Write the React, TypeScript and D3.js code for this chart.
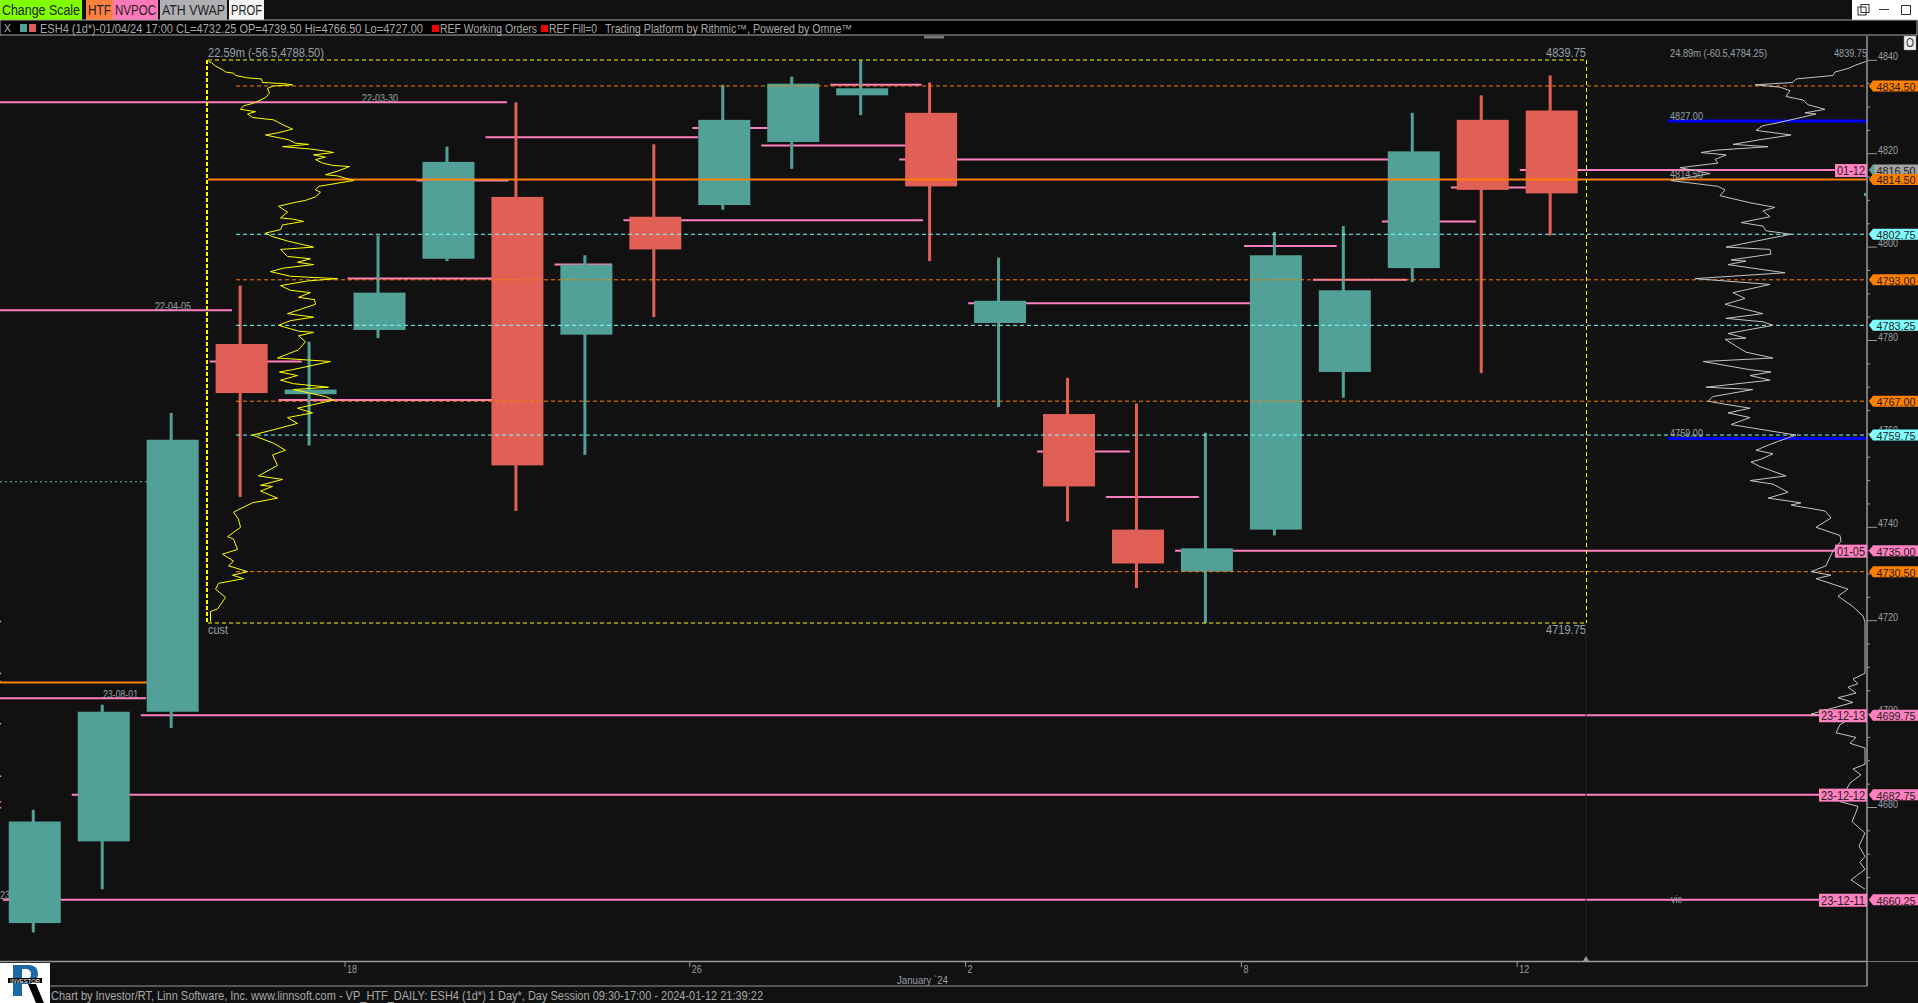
import * as d3 from 'd3';

const dates = ['12-11', '12-12', '12-13', '12-14', '12-15', '12-18', '12-19', '12-20', '12-21', '12-22', '12-26', '12-27', '12-28', '12-29', '01-02', '01-03', '01-04', '01-05', '01-08', '01-09', '01-10', '01-11', '01-12'];
const opens = [4655.25, 4672.75, 4700.5, 4779.25, 4768.5, 4782.25, 4797.5, 4810.75, 4781.25, 4806.5, 4809, 4822.5, 4832.5, 4828.75, 4783.75, 4764.25, 4739.5, 4730.5, 4739.5, 4773.25, 4795.5, 4827.25, 4829.25];
const highs = [4679.5, 4702, 4764.5, 4791.75, 4779.75, 4802.5, 4821.5, 4831, 4798.25, 4822, 4834.75, 4836.5, 4840, 4835.25, 4797.75, 4772, 4766.5, 4760.25, 4803.25, 4804.5, 4828.75, 4832.5, 4836.75];
const lows = [4653.25, 4662.5, 4697, 4746.5, 4757.5, 4780.5, 4797, 4743.5, 4755.5, 4785, 4808, 4816.75, 4828.25, 4797, 4765.75, 4741.25, 4727, 4719.5, 4738.25, 4767.75, 4792.5, 4773, 4802.5];
const closes = [4677, 4700.5, 4758.75, 4768.75, 4769.5, 4790.25, 4818.25, 4753.25, 4796.25, 4799.5, 4827.25, 4835, 4834, 4813, 4788.5, 4748.75, 4732.25, 4735.5, 4798.25, 4790.75, 4820.5, 4812.25, 4811.5];

// naked POC of each day and the bar where it stops
const pocPrices = [4660.25, 4682.75, 4699.75, 4775.5, 4767.25, 4793.25, 4814.25, 4823.5, 4796.25, 4805.75, 4825.5, 4821.75, 4834.75, 4818.75, 4788, 4756.25, 4746.5, 4735, 4800.25, 4793, 4805.5, 4812.75, 4816.5];
const pocEnds = [26.58, 26.58, 26.58, 3.87, 6.64, 6.64, 6.87, 9.62, 8.37, 12.88, 10.96, 12.63, 12.86, 19.64, 17.64, 15.88, 16.88, 26.58, 18.88, 19.9, 20.9, 21.9, 26.58];

const yellowPrices = [4839.75, 4839.5, 4838.75, 4838, 4837.5, 4837.25, 4836.75, 4836.25, 4836, 4835.25, 4835, 4834.75, 4834.5, 4834, 4833, 4832, 4831, 4830.75, 4830.25, 4829.5, 4829, 4828.5, 4827.75, 4827.25, 4826.25, 4825.25, 4824.5, 4824, 4823, 4822.25, 4822, 4821.5, 4821, 4820.5, 4820.25, 4819.75, 4819.25, 4818.75, 4818, 4817.5, 4817.25, 4816.25, 4815.5, 4815.25, 4814.25, 4813, 4812.25, 4811.75, 4810.75, 4810, 4809.5, 4808.75, 4807.5, 4806.25, 4806, 4805.5, 4804.75, 4803.75, 4803, 4802.25, 4801.25, 4800, 4799.5, 4798, 4797.5, 4796.75, 4796.25, 4795.5, 4794.75, 4793.75, 4793.25, 4792.75, 4791.75, 4790.75, 4790.25, 4789.25, 4788.75, 4787.75, 4785.75, 4785, 4784.25, 4783.25, 4782, 4781.75, 4781, 4779.75, 4778, 4776.25, 4775.5, 4773.75, 4773.25, 4772.5, 4771.5, 4770.75, 4770, 4769.5, 4768, 4767.25, 4765.5, 4764.5, 4763.5, 4762.25, 4761, 4759.75, 4758, 4756.5, 4755.5, 4753.25, 4751, 4750.25, 4749, 4748.75, 4747.75, 4746.25, 4745.25, 4743.25, 4741.75, 4740, 4738, 4737.5, 4735.25, 4734.25, 4732.75, 4731.75, 4730.5, 4729.75, 4729, 4728, 4726.75, 4725, 4722.5, 4722, 4719.75];
const yellowVols = [0, 3, 7, 14, 17, 25, 27, 39, 53, 54, 75, 84, 65, 59, 61, 57, 47, 44, 35, 32, 47, 39, 44, 65, 74, 84, 70, 57, 80, 87, 100, 74, 102, 119, 125, 105, 117, 107, 114, 124, 141, 129, 117, 129, 145, 110, 107, 112, 107, 97, 85, 70, 79, 72, 84, 95, 74, 72, 57, 64, 80, 105, 72, 79, 102, 89, 105, 75, 62, 82, 129, 99, 72, 82, 102, 90, 106, 107, 79, 105, 82, 70, 90, 105, 90, 97, 90, 69, 122, 84, 71, 89, 72, 85, 120, 85, 117, 125, 89, 104, 79, 89, 67, 44, 65, 77, 64, 69, 50, 74, 52, 64, 52, 69, 44, 25, 30, 32, 19, 25, 29, 14, 25, 20, 39, 24, 35, 10, 7, 17, 9, 2, 2];

const whitePrices = [4839.75, 4839, 4838.25, 4837.5, 4836.75, 4836, 4835.25, 4834.75, 4834.25, 4833.5, 4832.25, 4831.5, 4830.5, 4829.5, 4828.75, 4828.5, 4827.5, 4826.5, 4826, 4825, 4824, 4823, 4822, 4821.5, 4820.75, 4820.25, 4819.75, 4818.75, 4818, 4817, 4815.75, 4814.25, 4813, 4812.25, 4811, 4809.5, 4808.5, 4807.75, 4806.5, 4805.25, 4804.5, 4803.5, 4802.75, 4802, 4800, 4799.5, 4798.5, 4797.25, 4797, 4796.25, 4794.5, 4793.25, 4792, 4790.25, 4789, 4787.75, 4785.75, 4784.75, 4784, 4783.25, 4781.5, 4780.5, 4780.25, 4777.5, 4776.25, 4775.5, 4773.75, 4773.25, 4772.5, 4771.5, 4770, 4769.5, 4768, 4767, 4766.25, 4765.5, 4764.5, 4763.5, 4762, 4759.75, 4758, 4756.5, 4755.75, 4754.5, 4754, 4753, 4751, 4750, 4749.25, 4747.5, 4746.25, 4745.25, 4744.75, 4743.5, 4742, 4740, 4738.25, 4737, 4735, 4731.75, 4730.5, 4729.75, 4729, 4726.75, 4725.25, 4723, 4721, 4719.75, 4708.75, 4707.5, 4706.5, 4705.75, 4704.5, 4703.5, 4702.5, 4700, 4699, 4697.75, 4696, 4695, 4693.75, 4692.75, 4689.25, 4688.25, 4687, 4685.25, 4681.25, 4680.25, 4679, 4677, 4674.5, 4671.75, 4669.5, 4668.25, 4666.75, 4664.5, 4662.5];
const whiteVols = [1, 11, 19, 32, 34, 71, 74, 112, 87, 77, 81, 64, 59, 42, 62, 51, 71, 92, 104, 111, 76, 107, 134, 99, 151, 166, 141, 152, 149, 187, 157, 196, 149, 142, 147, 117, 92, 104, 97, 126, 104, 101, 76, 94, 141, 97, 96, 136, 121, 139, 82, 172, 97, 134, 122, 142, 104, 141, 104, 94, 139, 121, 142, 121, 94, 164, 117, 96, 117, 97, 161, 114, 154, 159, 139, 117, 139, 117, 136, 71, 94, 111, 94, 107, 116, 107, 81, 117, 94, 79, 99, 66, 76, 42, 36, 51, 27, 26, 34, 41, 56, 36, 51, 19, 29, 14, 4, 2, 2, 14, 9, 19, 11, 29, 14, 56, 17, 27, 31, 11, 17, 2, 2, 14, 6, 17, 27, 9, 11, 15, 2, 8, 2, 7, 2, 16, 2];

const orangeLevels = [4834.5, 4793, 4767, 4730.5];
const cyanLevels = [4802.75, 4783.25, 4759.75];
const blueLevels = [4827, 4759];
const priceTags = [
  { p: 4816.5, t: '4816.50', fill: '#a3a3a3', tip: '#52a199' },
  { p: 4834.5, t: '4834.50', fill: '#ff7f00', tip: '#ff7f00' },
  { p: 4814.5, t: '4814.50', fill: '#ff7f00', tip: '#ff7f00' },
  { p: 4802.75, t: '4802.75', fill: '#7fffff', tip: '#7fffff' },
  { p: 4793, t: '4793.00', fill: '#ff7f00', tip: '#ff7f00' },
  { p: 4783.25, t: '4783.25', fill: '#7fffff', tip: '#7fffff' },
  { p: 4767, t: '4767.00', fill: '#ff7f00', tip: '#ff7f00' },
  { p: 4759.75, t: '4759.75', fill: '#7fffff', tip: '#7fffff' },
  { p: 4735, t: '4735.00', fill: '#ff80c0', tip: '#ff80c0' },
  { p: 4730.5, t: '4730.50', fill: '#ff7f00', tip: '#ff7f00' },
  { p: 4699.75, t: '4699.75', fill: '#ff80c0', tip: '#ff80c0' },
  { p: 4682.75, t: '4682.75', fill: '#ff80c0', tip: '#ff80c0' },
  { p: 4660.25, t: '4660.25', fill: '#ff80c0', tip: '#ff80c0' },
];
const dateTags = [
  { p: 4816.5, t: '01-12' },
  { p: 4735, t: '01-05' },
  { p: 4699.75, t: '23-12-13' },
  { p: 4682.75, t: '23-12-12' },
  { p: 4660.25, t: '23-12-11' },
];
const leftMarks = [4719.9, 4708.75, 4707, 4698, 4686.75, 4681.25, 4680];
const timeTicks = [
  { d: '12-18', t: '18' },
  { d: '12-26', t: '26' },
  { d: '01-02', t: '2' },
  { d: '01-08', t: '8' },
  { d: '01-12', t: '12' },
];
const buttons = [
  { t: 'Change Scale', x0: 0, x1: 82, fill: '#7fff00', w: 78 },
  { t: 'HTF', x0: 86, x1: 113, fill: '#ff7f3f', w: 23 },
  { t: 'NVPOC', x0: 113, x1: 158, fill: '#ff78bc', w: 41 },
  { t: 'ATH VWAP', x0: 160, x1: 227, fill: '#b0b0b4', w: 63 },
  { t: 'PROF', x0: 229, x1: 264, fill: '#f4f4f4', w: 31 },
];

const W = 1918;
const H = 1003;
const plotRight = 1867;
const bg = '#111111';
const teal = '#52a199';
const red = '#e06055';
const pink = '#ff80c0';
const orange = '#ff7f00';
const cyan = '#7fffff';
const labelGray = '#98a0a6';
const font = '"Liberation Sans", Arial, sans-serif';

const y = d3.scaleLinear().domain([4840, 4660]).range([60.3, 900.9]);
const x = d3.scaleBand().domain(dates).range([0.3, 1586.15]).paddingInner(0.246).paddingOuter(0.123);
const xi = d3.scaleLinear().domain([0, 22]).range([34.8, 1551.8]);
const volY = d3.scaleLinear().domain([0, 100]).range([208.5, 308.5]);
const volW = d3.scaleLinear().domain([0, 100]).range([plotRight, plotRight - 100]);
const yellowLine = d3.line<number>().x((_, i) => volY(yellowVols[i])).y(d => y(d));
const whiteLine = d3.line<number>().x((_, i) => volW(whiteVols[i])).y(d => y(d));

const T = ({ x: tx, y: ty, w, size = 12, fill = labelGray, children }: any) => (
  <text x={tx} y={ty} fontSize={size} fill={fill} fontFamily={font} textLength={w} lengthAdjust="spacingAndGlyphs">
    {children}
  </text>
);

const App = () => {
  const axisTicks = d3.range(4665, 4841, 5);
  const bw = x.bandwidth();
  return (
    <svg width={W} height={H} style={{ position: 'fixed', left: 0, top: 0, display: 'block' }}>
      <rect width={W} height={H} fill={bg} />

      {/* toolbar */}
      {buttons.map(b => (
        <g key={b.t}>
          <rect x={b.x0} y={0} width={b.x1 - b.x0} height={20} fill={b.fill} />
          <T x={b.x0 + 2} y={15} w={b.w} size={14} fill="#222">{b.t}</T>
        </g>
      ))}
      <rect x={1852} y={0} width={66} height={20} fill="#fff" />
      <rect x={1858} y={7} width={8} height={8} fill="none" stroke="#333" />
      <rect x={1861} y={4.5} width={8} height={8} fill="none" stroke="#333" />
      <line x1={1879} x2={1889} y1={9.5} y2={9.5} stroke="#333" />
      <rect x={1901.5} y={5.5} width={9} height={9} fill="none" stroke="#333" />

      {/* legend strip */}
      <rect x={0} y={20} width={1917} height={15} fill="#000" stroke="#aaa" />
      <T x={4} y={32} w={7} size={11} fill="#bbb">X</T>
      <rect x={20} y={24} width={7} height={8} fill={teal} />
      <rect x={29} y={24} width={7} height={8} fill={red} />
      <T x={40} y={33} w={383} size={12} fill="#a8a8a8">ESH4 (1d*)-01/04/24 17:00 CL=4732.25 OP=4739.50 Hi=4766.50 Lo=4727.00</T>
      <rect x={432} y={25} width={7} height={7} fill="#f00000" />
      <T x={440} y={33} w={97} size={12} fill="#a8a8a8">REF Working Orders</T>
      <rect x={541} y={25} width={7} height={7} fill="#f00000" />
      <T x={549} y={33} w={48} size={12} fill="#a8a8a8">REF Fill=0</T>
      <T x={605} y={33} w={247} size={12} fill="#a8a8a8">Trading Platform by Rithmic™, Powered by Omne™</T>
      <rect x={924} y={36} width={20} height={2.5} fill="#777" />
      <rect x={1904} y={36} width={12} height={14} fill="#eee" stroke="#888" strokeWidth={0.5} />
      <T x={1906} y={47} w={8} size={12} fill="#333">O</T>

      {/* earlier levels running in from the left */}
      {leftMarks.map(p => (
        <rect key={p} x={0} y={y(p) - 0.5} width={1.2} height={1.5} fill={pink} />
      ))}
      <line x1={0} x2={507} y1={y(4831)} y2={y(4831)} stroke={pink} strokeWidth={2} />
      <line x1={0} x2={232} y1={y(4786.5)} y2={y(4786.5)} stroke={pink} strokeWidth={2} />
      <line x1={0} x2={160} y1={y(4749.75)} y2={y(4749.75)} stroke={cyan} strokeOpacity={0.75} strokeDasharray="2 3" />
      <line x1={0} x2={163} y1={y(4706.75)} y2={y(4706.75)} stroke={orange} strokeWidth={2} />
      <line x1={0} x2={146} y1={y(4703.4)} y2={y(4703.4)} stroke={pink} strokeWidth={2} />
      <T x={362} y={102} w={36} size={11}>22-03-30</T>
      <T x={155} y={310} w={36} size={11}>22-04-05</T>
      <T x={103} y={698} w={35} size={11}>23-08-01</T>
      <T x={0} y={899} w={10} size={11}>23</T>

      {/* naked POC stubs */}
      {pocPrices.map((p, i) => (
        <line key={dates[i]} x1={Math.max(xi(i) - 32, 0)} x2={xi(pocEnds[i]) > plotRight ? plotRight : xi(pocEnds[i])} y1={y(p)} y2={y(p)} stroke={pink} strokeWidth={2} />
      ))}

      {/* candles */}
      {dates.map((d, i) => {
        const color = closes[i] >= opens[i] ? teal : red;
        const left = x(d) ?? 0;
        const top = y(Math.max(opens[i], closes[i]));
        const bot = y(Math.min(opens[i], closes[i]));
        return (
          <g key={d}>
            <rect x={left + bw / 2 - 3} y={y(highs[i])} width={3} height={y(lows[i]) - y(highs[i])} fill={color} />
            <rect x={left} y={top} width={bw} height={bot - top} fill={color} />
          </g>
        );
      })}

      {/* level lines */}
      {orangeLevels.map(p => (
        <line key={p} x1={236} x2={plotRight} y1={y(p)} y2={y(p)} stroke={orange} strokeDasharray="4 3" />
      ))}
      {cyanLevels.map(p => (
        <line key={p} x1={236} x2={plotRight} y1={y(p)} y2={y(p)} stroke={cyan} strokeDasharray="4 3" />
      ))}
      <line x1={208} x2={plotRight} y1={y(4814.5)} y2={y(4814.5)} stroke={orange} strokeWidth={2} />
      {blueLevels.map(p => (
        <line key={p} x1={1668} x2={plotRight} y1={y(p)} y2={y(p)} stroke="#0000ff" strokeWidth={3} />
      ))}

      {/* profile box */}
      <line x1={208} x2={1586} y1={60} y2={60} stroke="#ffff00" strokeDasharray="4 3" />
      <line x1={208} x2={1586} y1={623} y2={623} stroke="#ffff00" strokeDasharray="4 3" />
      <line x1={1586.5} x2={1586.5} y1={60} y2={623} stroke="#ffff00" strokeDasharray="4 3" />
      <line x1={207} x2={207} y1={60} y2={623} stroke="#ffff00" strokeWidth={2} strokeDasharray="4 2" />
      <path d={yellowLine(yellowPrices) ?? ''} fill="none" stroke="#ffff00" strokeWidth={1} />
      <path d={whiteLine(whitePrices) ?? ''} fill="none" stroke="#c4c4c4" strokeWidth={1} />
      <T x={208} y={57} w={116}>22.59m (-56.5,4788.50)</T>
      <T x={208} y={634} w={20}>cust</T>
      <T x={1546} y={57} w={40}>4839.75</T>
      <T x={1546} y={634} w={40}>4719.75</T>
      <T x={1670} y={57} w={97} size={11}>24.89m (-60.5,4784.25)</T>
      <T x={1834} y={57} w={33} size={11}>4839.75</T>
      <T x={1670} y={120} w={33} size={11}>4827.00</T>
      <T x={1670} y={178} w={33} size={11}>4814.50</T>
      <T x={1670} y={437} w={33} size={11}>4759.00</T>
      <T x={1671} y={903} w={11} size={10}>vic</T>
      <line x1={1586} x2={1586} y1={623} y2={957} stroke="#222" />
      <path d="M1583 961 L1586 956 L1589 961 Z" fill="#999" />

      {/* price axis */}
      {axisTicks.map(t => {
        const major = t % 20 === 0;
        return (
          <g key={t}>
            <line x1={plotRight} x2={plotRight + (major ? 10 : 3)} y1={y(t)} y2={y(t)} stroke="#999" />
            {major && <T x={1878} y={y(t)} w={20} size={11}>{t}</T>}
          </g>
        );
      })}
      <line x1={plotRight} x2={plotRight} y1={36} y2={986} stroke="#999" strokeWidth={1.5} />
      <rect x={1864} y={193} width={2.5} height={3} fill={teal} />
      <rect x={1863} y={169} width={4} height={2} fill={teal} />

      {dateTags.map(d => (
        <g key={d.t}>
          <rect x={plotRight - (d.t.length > 5 ? 48 : 32)} y={y(d.p) - 6} width={d.t.length > 5 ? 48 : 32} height={13} fill={pink} />
          <T x={plotRight - (d.t.length > 5 ? 46 : 30)} y={y(d.p) + 5} w={d.t.length > 5 ? 44 : 28} size={12} fill="#222">{d.t}</T>
        </g>
      ))}
      {priceTags.map(d => (
        <g key={d.t}>
          <path d={`M1869 ${y(d.p)} L1873 ${y(d.p) - 5.5} H1918 V${y(d.p) + 5.5} H1873 Z`} fill={d.fill} />
          <path d={`M1869 ${y(d.p)} L1874 ${y(d.p) - 5.5} V${y(d.p) + 5.5} Z`} fill={d.tip} />
          <T x={1876.5} y={y(d.p) + 5} w={39} size={11.5} fill="#222">{d.t}</T>
        </g>
      ))}

      {/* time axis */}
      <line x1={0} x2={plotRight} y1={961.5} y2={961.5} stroke="#999" strokeWidth={1.5} />
      <line x1={plotRight} x2={W} y1={961.5} y2={961.5} stroke="#777" />
      <line x1={50} x2={plotRight} y1={986} y2={986} stroke="#999" />
      {timeTicks.map(t => {
        const tx = (x(t.d) ?? 0) - 8.5;
        return (
          <g key={t.d}>
            <line x1={tx} x2={tx} y1={962} y2={967} stroke="#999" />
            <T x={tx + 2} y={973} w={t.t.length * 5} size={11}>{t.t}</T>
          </g>
        );
      })}
      <T x={897} y={984} w={51} size={10}>January `24</T>

      {/* logo and footer */}
      <rect x={0} y={963} width={50} height={40} fill="#fff" />
      <path d="M13 965 H30 Q38 966 38 974 Q38 982 29 984 L22 984 V996 H13 Z M22 969 V980 H27 Q31 979 31 974 Q31 970 27 969 Z" fill="#1a6aa8" fillRule="evenodd" />
      <path d="M28 984 L36 984 L44 1003 L36 1003 Z" fill="#000" />
      <rect x={8} y={978} width={34} height={5} fill="#000" />
      <T x={10} y={982.5} w={30} size={5} fill="#fff">INVESTOR</T>
      <T x={51} y={1000} w={712} size={12} fill="#a8a8a8">Chart by Investor/RT, Linn Software, Inc. www.linnsoft.com - VP_HTF_DAILY: ESH4 (1d*) 1 Day*, Day Session 09:30-17:00 - 2024-01-12 21:39:22</T>
    </svg>
  );
};

export default App;
